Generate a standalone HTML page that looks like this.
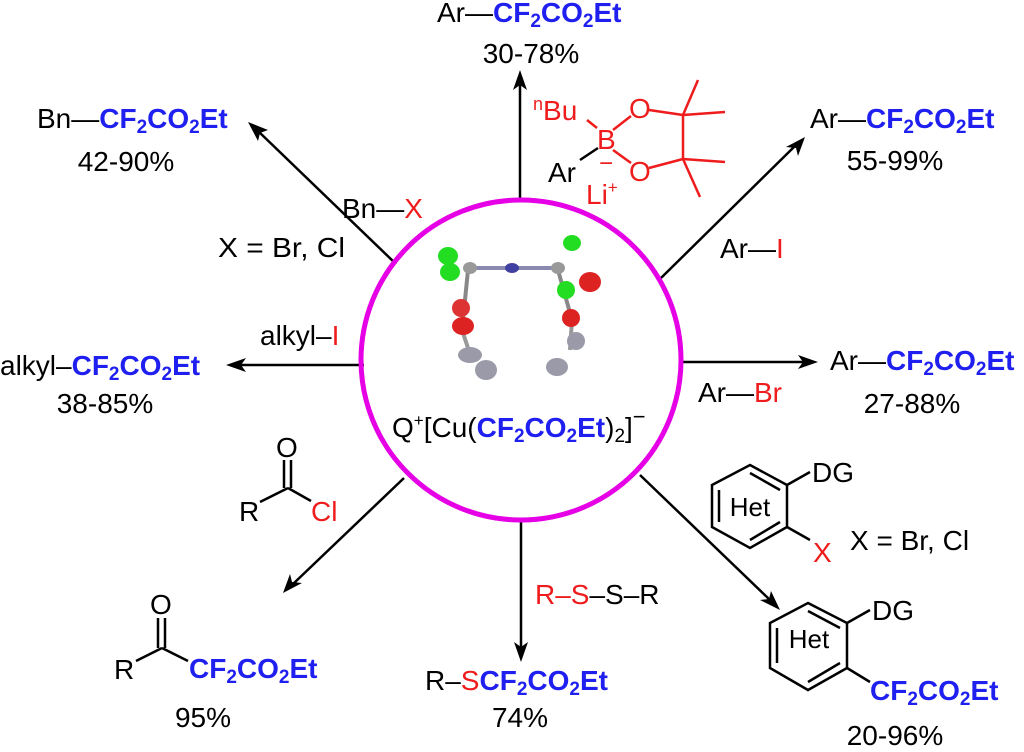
<!DOCTYPE html>
<html><head><meta charset="utf-8"><style>
html,body{margin:0;padding:0;background:#fff;}
svg{display:block;font-family:"Liberation Sans",Arial,sans-serif;}
.b{fill:#1f1ff0;font-weight:bold;}
.r{fill:#ee1c1c;}
</style></head><body>
<svg width="1024" height="752" viewBox="0 0 1024 752" xmlns="http://www.w3.org/2000/svg" font-size="28">
<g stroke="#000" stroke-width="2.5" fill="none">
<line x1="520" y1="198" x2="520" y2="82"/>
<line x1="396" y1="264" x2="258" y2="131"/>
<line x1="661" y1="278" x2="795" y2="146"/>
<line x1="364" y1="365" x2="240" y2="365"/>
<line x1="682" y1="362" x2="804" y2="362"/>
<line x1="404" y1="478" x2="293" y2="584"/>
<line x1="521" y1="522" x2="521" y2="648"/>
<line x1="640" y1="475" x2="770" y2="600"/>
</g>
<g fill="#000">
<polygon points="520,70 513,90 520,85 527,90"/>
<polygon points="248,122 268,130 260,133 258,141"/>
<polygon points="805,137 798,156 796,148 786,147"/>
<polygon points="226,365 246,358 241,365 246,372"/>
<polygon points="818,362 798,355 803,362 798,369"/>
<polygon points="283,593 290,574 292,582 302,583"/>
<polygon points="521,662 514,642 521,647 528,642"/>
<polygon points="780,610 771,591 769,599 760,600"/>
</g>
<circle cx="521" cy="360" r="160" fill="none" stroke="#e600e6" stroke-width="5"/>
<g>
<line x1="470" y1="268" x2="555" y2="268" stroke="#8a8ab0" stroke-width="4"/>
<line x1="468" y1="270" x2="462" y2="330" stroke="#888" stroke-width="4"/>
<line x1="462" y1="330" x2="472" y2="360" stroke="#999" stroke-width="4"/>
<line x1="558" y1="270" x2="572" y2="320" stroke="#888" stroke-width="4"/>
<line x1="572" y1="320" x2="570" y2="350" stroke="#999" stroke-width="4"/>
<ellipse cx="448" cy="256" rx="10" ry="9" fill="#22dd22"/>
<ellipse cx="450" cy="272" rx="10" ry="9" fill="#22dd22"/>
<ellipse cx="572" cy="243" rx="9" ry="8" fill="#22dd22"/>
<ellipse cx="566" cy="290" rx="9" ry="9" fill="#22dd22"/>
<ellipse cx="512" cy="268" rx="7" ry="5" fill="#4040a0"/>
<ellipse cx="470" cy="268" rx="7" ry="6" fill="#999"/>
<ellipse cx="558" cy="268" rx="7" ry="6" fill="#999"/>
<ellipse cx="590" cy="282" rx="11" ry="10" fill="#dd2222"/>
<ellipse cx="461" cy="308" rx="9" ry="9" fill="#dd3333"/>
<ellipse cx="463" cy="326" rx="11" ry="9" fill="#dd2222"/>
<ellipse cx="571" cy="318" rx="9" ry="9" fill="#dd2222"/>
<ellipse cx="470" cy="355" rx="12" ry="8" fill="#9a9aa8"/>
<ellipse cx="486" cy="370" rx="11" ry="10" fill="#9a9aa8"/>
<ellipse cx="576" cy="341" rx="9" ry="9" fill="#9a9aa8"/>
<ellipse cx="557" cy="367" rx="11" ry="9" fill="#9a9aa8"/>
</g>
<text x="392" y="437">Q<tspan font-size="17" dy="-11">+</tspan><tspan dy="11">[Cu(</tspan><tspan class="b">CF<tspan font-size="19" dy="5">2</tspan><tspan dy="-5">CO</tspan><tspan font-size="19" dy="5">2</tspan><tspan dy="-5">Et</tspan></tspan>)<tspan font-size="19" dy="5">2</tspan><tspan dy="-5">]</tspan><tspan font-size="22" dy="-13">−</tspan></text>

<text x="437" y="22">Ar—<tspan class="b">CF<tspan font-size="19" dy="5">2</tspan><tspan dy="-5">CO</tspan><tspan font-size="19" dy="5">2</tspan><tspan dy="-5">Et</tspan></tspan></text>
<text x="531" y="63" text-anchor="middle">30-78%</text>
<g fill="#ee1c1c">
<text x="533" y="120"><tspan font-size="18" dy="-10">n</tspan><tspan dy="10">Bu</tspan></text>
<text x="597" y="149">B</text>
<text x="599" y="171" font-size="24">−</text>
<text x="629" y="118">O</text>
<text x="629" y="181">O</text>
<text x="586" y="204">Li<tspan font-size="17" dy="-11">+</tspan></text>
</g>
<text x="548" y="182">Ar</text>
<g stroke="#ee1c1c" stroke-width="2.5">
<line x1="587" y1="120" x2="597" y2="128"/>
<line x1="613" y1="130" x2="631" y2="116"/>
<line x1="613" y1="150" x2="631" y2="163"/>
<line x1="649" y1="110" x2="683" y2="115"/>
<line x1="649" y1="168" x2="683" y2="159"/>
<line x1="683" y1="115" x2="683" y2="159"/>
<line x1="683" y1="115" x2="698" y2="80"/>
<line x1="683" y1="115" x2="725" y2="112"/>
<line x1="683" y1="159" x2="725" y2="162"/>
<line x1="683" y1="159" x2="700" y2="197"/>
</g>
<line x1="580" y1="160" x2="598" y2="148" stroke="#000" stroke-width="2.5"/>

<text x="37" y="128">Bn—<tspan class="b">CF<tspan font-size="19" dy="5">2</tspan><tspan dy="-5">CO</tspan><tspan font-size="19" dy="5">2</tspan><tspan dy="-5">Et</tspan></tspan></text>
<text x="126" y="171" text-anchor="middle">42-90%</text>
<text x="342" y="218">Bn—<tspan class="r">X</tspan></text>
<text x="218" y="257" textLength="127" lengthAdjust="spacingAndGlyphs">X = Br, Cl</text>

<text x="810" y="128">Ar—<tspan class="b">CF<tspan font-size="19" dy="5">2</tspan><tspan dy="-5">CO</tspan><tspan font-size="19" dy="5">2</tspan><tspan dy="-5">Et</tspan></tspan></text>
<text x="895" y="170" text-anchor="middle">55-99%</text>
<text x="720" y="258">Ar—<tspan class="r">I</tspan></text>

<text x="260" y="345">alkyl–<tspan class="r">I</tspan></text>
<text x="0" y="375">alkyl–<tspan class="b">CF<tspan font-size="19" dy="5">2</tspan><tspan dy="-5">CO</tspan><tspan font-size="19" dy="5">2</tspan><tspan dy="-5">Et</tspan></tspan></text>
<text x="105" y="413" text-anchor="middle">38-85%</text>

<text x="830" y="370">Ar—<tspan class="b">CF<tspan font-size="19" dy="5">2</tspan><tspan dy="-5">CO</tspan><tspan font-size="19" dy="5">2</tspan><tspan dy="-5">Et</tspan></tspan></text>
<text x="698" y="402">Ar—<tspan class="r">Br</tspan></text>
<text x="912" y="413" text-anchor="middle">27-88%</text>

<text x="276" y="457">O</text>
<text x="239" y="521">R</text>
<text x="311" y="521" class="r">Cl</text>
<g stroke="#000" stroke-width="2.5">
<line x1="284" y1="460" x2="284" y2="488"/>
<line x1="291" y1="460" x2="291" y2="488"/>
<line x1="260" y1="502" x2="288" y2="488"/>
<line x1="288" y1="488" x2="311" y2="501"/>
</g>
<text x="150" y="614">O</text>
<text x="114" y="679">R</text>
<text x="189" y="678" class="b">CF<tspan font-size="19" dy="5">2</tspan><tspan dy="-5">CO</tspan><tspan font-size="19" dy="5">2</tspan><tspan dy="-5">Et</tspan></text>
<g stroke="#000" stroke-width="2.5">
<line x1="158" y1="618" x2="158" y2="648"/>
<line x1="165" y1="618" x2="165" y2="648"/>
<line x1="136" y1="661" x2="162" y2="648"/>
<line x1="162" y1="648" x2="188" y2="661"/>
</g>
<text x="203" y="727" text-anchor="middle">95%</text>

<text x="535" y="604"><tspan class="r">R–S</tspan>–S–R</text>
<text x="425" y="690">R–<tspan class="r">S</tspan><tspan class="b">CF<tspan font-size="19" dy="5">2</tspan><tspan dy="-5">CO</tspan><tspan font-size="19" dy="5">2</tspan><tspan dy="-5">Et</tspan></tspan></text>
<text x="520" y="727" text-anchor="middle">74%</text>

<g stroke="#000" stroke-width="2.5" fill="none">
<polygon points="750,465 787,485 787,527 750,548 712,527 712,485"/>
<line x1="719" y1="490" x2="719" y2="522"/>
<line x1="750" y1="473" x2="780" y2="490"/>
<line x1="780" y1="522" x2="750" y2="540"/>
<line x1="787" y1="485" x2="810" y2="472"/>
<line x1="787" y1="527" x2="810" y2="540"/>
<polygon points="808,603 847,623 847,668 808,690 770,668 770,623"/>
<line x1="777" y1="628" x2="777" y2="663"/>
<line x1="808" y1="611" x2="840" y2="628"/>
<line x1="840" y1="663" x2="808" y2="682"/>
<line x1="847" y1="623" x2="870" y2="610"/>
<line x1="847" y1="668" x2="870" y2="682"/>
</g>
<text x="750" y="516" text-anchor="middle" font-size="26">Het</text>
<text x="809" y="648" text-anchor="middle" font-size="26">Het</text>
<text x="812" y="482">DG</text>
<text x="813" y="562" class="r">X</text>
<text x="850" y="550">X = Br, Cl</text>
<text x="872" y="620">DG</text>
<text x="870" y="700" class="b">CF<tspan font-size="19" dy="5">2</tspan><tspan dy="-5">CO</tspan><tspan font-size="19" dy="5">2</tspan><tspan dy="-5">Et</tspan></text>
<text x="895" y="745" text-anchor="middle">20-96%</text>
</svg>
</body></html>
